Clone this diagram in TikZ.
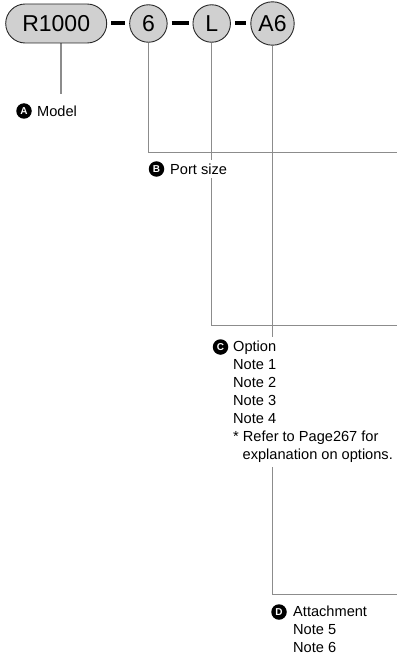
\documentclass[tikz,border=0pt]{standalone}
\usepackage{fontspec}
\setmainfont{Liberation Sans}
\usetikzlibrary{backgrounds,shapes.misc}
\definecolor{linegray}{RGB}{140,140,140}
\definecolor{bubfill}{RGB}{208,208,208}
\definecolor{bubdraw}{RGB}{40,40,40}
\begin{document}
\begin{tikzpicture}[x=1pt,y=-1pt,
  bubtext/.style={font=\fontsize{23}{23}\selectfont},
  bub/.style={circle,draw=bubdraw,fill=bubfill,line width=0.9pt,inner sep=4pt,minimum size=37.5pt,bubtext},
  pill/.style={rounded rectangle,draw=bubdraw,fill=bubfill,line width=0.9pt,minimum width=101pt,minimum height=39pt,inner sep=0pt,bubtext},
  joiner/.style={line width=4pt,black,shorten <=4pt,shorten >=4pt},
  conn/.style={linegray,line width=1.3pt},
  badge/.style={circle,fill=black,text=white,inner sep=0pt,minimum size=15.5pt,font=\fontsize{10}{10}\selectfont\bfseries},
  lbl/.style={anchor=west,fill=white,inner xsep=1pt,inner ysep=4pt,align=left,font=\fontsize{14.6}{18}\selectfont},
  block/.style={anchor=north west,fill=white,inner xsep=1pt,inner ysep=4pt,align=left,font=\fontsize{14.6}{18}\selectfont}
]
\useasboundingbox (0,0) rectangle (397,655);

% top code
\node[pill] (r) at (56.2,23.5) {R1000};
\node[bub] (n6) at (148.4,23.5) {6};
\node[bub] (nL) at (211.7,23.5) {L};
\node[bub,minimum size=41pt] (nA) at (272.5,23.5) {A6};

\draw[joiner] (r.east) -- (n6.west);
\draw[joiner] (n6.east) -- (nL.west);
\draw[joiner] (nL.east) -- (nA.west);

% labels
\node[badge] (ba) at (24,111) {A};
\node[lbl] (ta) at (36,111) {Model};

\node[badge] (bb) at (156.5,169) {B};
\node[lbl] (tb) at (169,169) {Port size};

\node[badge] (bc) at (220.5,347) {C};
\node[block] (tc) at (232,337) {Option\\Note 1\\Note 2\\Note 3\\Note 4\\* Refer to Page267 for\\\hspace{9.5pt}explanation on options.};

\node[badge] (bd) at (279,612) {D};
\node[block] (td) at (292,602) {Attachment\\Note 5\\Note 6};

% right-edge ends
\coordinate (eB) at (397,152.5);
\coordinate (eC) at (397,325.5);
\coordinate (eD) at (397,594.5);
\coordinate (mA) at (61,94);

\begin{scope}[on background layer]
\draw[conn] (r.south -| mA) -- (mA);
\draw[conn] (n6.south) |- (eB);
\draw[conn] (nL.south) |- (eC);
\draw[conn] (nA.south) |- (eD);
\end{scope}
\end{tikzpicture}
\end{document}
